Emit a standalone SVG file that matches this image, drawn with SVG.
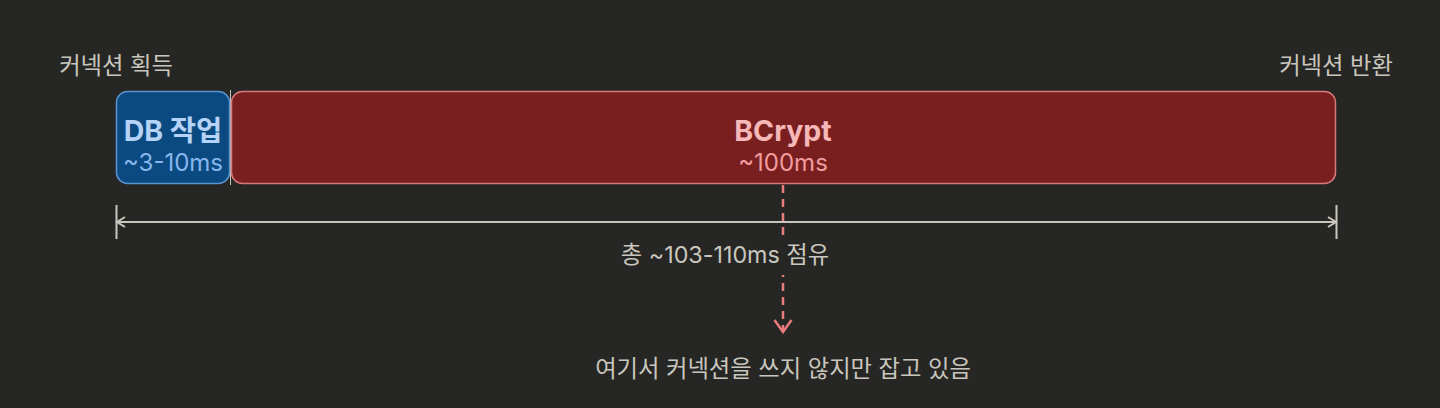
<svg xmlns="http://www.w3.org/2000/svg" width="1440" height="408" viewBox="0 0 1440 408">
<defs>
<style>
.t{font-family:"Inter","Noto Sans CJK KR",sans-serif;}
.lbl{font-size:23.3px;fill:#c9c6bd;text-anchor:middle;}
.ttl{font-size:28.5px;font-weight:700;text-anchor:middle;}
.sub{font-size:24px;text-anchor:middle;}
</style>
<marker id="chev" viewBox="0 0 12 12" refX="10" refY="6" markerWidth="12" markerHeight="12" markerUnits="userSpaceOnUse" orient="auto-start-reverse">
<path d="M2,1 L10,6 L2,11" fill="none" stroke="#c9c6bd" stroke-width="2"/>
</marker>
<marker id="chevr" viewBox="0 0 16 20" refX="14" refY="10" markerWidth="16" markerHeight="20" markerUnits="userSpaceOnUse" orient="auto">
<path d="M2,1.5 L14,10 L2,18.5" fill="none" stroke="#e87b7b" stroke-width="2.5"/>
</marker>
</defs>
<rect width="1440" height="408" fill="#262624"/>
<line x1="230.5" y1="90" x2="230.5" y2="185" stroke="#c9c6bd" stroke-width="1"/>
<g id="db">
<rect x="116.5" y="91.5" width="113" height="92" rx="11" fill="#0b4a80" stroke="#5b92d0" stroke-width="1.5"/>
<text class="t ttl" x="173" y="141" fill="#b4d3f6">DB 작업</text>
<text class="t sub" x="173" y="171" fill="#86b6ec">~3-10ms</text>
</g>
<g id="connectors">
<line x1="783" y1="185" x2="783" y2="332" stroke="#e87b7b" stroke-width="2.5" stroke-dasharray="8,6" marker-end="url(#chevr)"/>
<line x1="116.5" y1="205" x2="116.5" y2="239" stroke="#c9c6bd" stroke-width="2"/>
<line x1="1336.5" y1="205" x2="1336.5" y2="239" stroke="#c9c6bd" stroke-width="2"/>
<line x1="117" y1="222" x2="1336" y2="222" stroke="#c9c6bd" stroke-width="2" marker-start="url(#chev)" marker-end="url(#chev)"/>
</g>
<g id="bcrypt">
<rect x="231.5" y="91.5" width="1104" height="92" rx="11" fill="#7a1f20" stroke="#d9797a" stroke-width="1.5"/>
<text class="t ttl" x="783" y="141" fill="#f6b8b8">BCrypt</text>
<text class="t sub" x="783" y="171" fill="#f09c9c">~100ms</text>
</g>
<g id="labels">
<text class="t lbl" x="116" y="74">커넥션 획득</text>
<text class="t lbl" x="1336" y="74">커넥션 반환</text>
<rect x="610" y="237" width="230" height="38" fill="#262624"/>
<text class="t lbl" x="725" y="263">총 ~103-110ms 점유</text>
<text class="t lbl" x="783" y="377">여기서 커넥션을 쓰지 않지만 잡고 있음</text>
</g>
</svg>
